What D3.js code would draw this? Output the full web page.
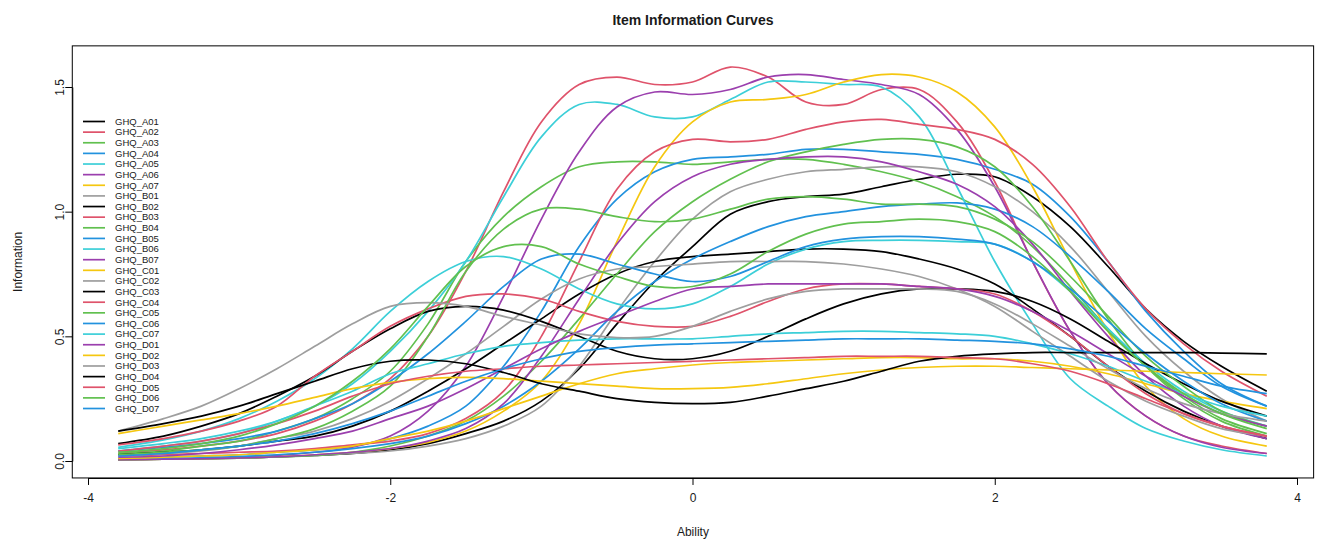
<!DOCTYPE html>
<html><head><meta charset="utf-8">
<script src="https://cdn.jsdelivr.net/npm/d3@7"></script>
<style>
body{margin:0;background:#fff}
svg{display:block}
text{font-family:"Liberation Sans",Arial,sans-serif;fill:#1a1a1a}
</style></head>
<body><svg id="chart" width="1317" height="539"></svg>
<script>
// Ability grid (x values)
const theta = [-3.8,-3.5,-3.25,-3,-2.75,-2.5,-2.25,-2,-1.75,-1.5,-1.25,-1,-0.75,-0.5,-0.25,0,0.25,0.5,0.75,1,1.25,1.5,1.75,2,2.25,2.5,2.75,3,3.25,3.5,3.8];
const xTicks = [-4,-2,0,2,4];
const xTickLabels = ["-4","-2","0","2","4"];
const yTicks = [0,0.5,1.0,1.5];
const yTickLabels = ["0.0","0.5","1.0","1.5"];
const itemNames = ["GHQ_A01","GHQ_A02","GHQ_A03","GHQ_A04","GHQ_A05","GHQ_A06","GHQ_A07",
  "GHQ_B01","GHQ_B02","GHQ_B03","GHQ_B04","GHQ_B05","GHQ_B06","GHQ_B07",
  "GHQ_C01","GHQ_C02","GHQ_C03","GHQ_C04","GHQ_C05","GHQ_C06","GHQ_C07",
  "GHQ_D01","GHQ_D02","GHQ_D03","GHQ_D04","GHQ_D05","GHQ_D06","GHQ_D07"];
const palette = ["#000000","#DF536B","#61C04F","#2292DE","#3CCFD8","#9B3FAE","#F5C710","#9E9E9E"];

// Information values per item
const GHQ_A01 = [0.005,0.007,0.009,0.012,0.016,0.022,0.03,0.045,0.07,0.11,0.16,0.24,0.37,0.55,0.72,0.86,0.99,1.04,1.06,1.07,1.1,1.13,1.15,1.14,1.06,0.94,0.78,0.61,0.48,0.38,0.28];
const GHQ_A02 = [0.03,0.045,0.06,0.08,0.11,0.16,0.23,0.33,0.5,0.76,1.08,1.36,1.51,1.54,1.51,1.52,1.58,1.54,1.44,1.43,1.49,1.49,1.36,1.12,0.8,0.52,0.31,0.18,0.1,0.06,0.03];
const GHQ_A03 = [0.03,0.04,0.06,0.08,0.12,0.17,0.25,0.36,0.55,0.8,0.98,1.1,1.18,1.2,1.2,1.19,1.2,1.21,1.21,1.19,1.16,1.12,1.06,0.98,0.86,0.7,0.53,0.38,0.26,0.17,0.11];
const GHQ_A04 = [0.01,0.015,0.02,0.025,0.035,0.045,0.06,0.09,0.14,0.22,0.38,0.6,0.86,1.05,1.16,1.21,1.22,1.23,1.25,1.25,1.24,1.23,1.21,1.17,1.11,0.98,0.8,0.6,0.44,0.31,0.22];
const GHQ_A05 = [0.04,0.06,0.08,0.11,0.16,0.22,0.31,0.44,0.6,0.8,1.06,1.3,1.43,1.43,1.38,1.38,1.45,1.52,1.52,1.51,1.5,1.38,1.1,0.8,0.55,0.33,0.22,0.13,0.08,0.045,0.02];
const GHQ_A06 = [0.005,0.008,0.01,0.015,0.022,0.035,0.055,0.1,0.2,0.38,0.66,0.97,1.24,1.42,1.48,1.47,1.49,1.54,1.55,1.53,1.51,1.47,1.33,1.1,0.8,0.52,0.31,0.18,0.1,0.055,0.03];
const GHQ_A07 = [0.005,0.007,0.009,0.012,0.017,0.025,0.035,0.05,0.075,0.12,0.2,0.32,0.55,0.88,1.18,1.36,1.44,1.45,1.47,1.52,1.55,1.54,1.48,1.34,1.1,0.8,0.52,0.3,0.17,0.1,0.06];
const GHQ_B01 = [0.005,0.007,0.009,0.012,0.016,0.022,0.03,0.04,0.06,0.09,0.14,0.22,0.38,0.6,0.8,0.97,1.08,1.13,1.16,1.17,1.18,1.18,1.16,1.1,1.0,0.86,0.68,0.5,0.36,0.25,0.16];
const GHQ_B02 = [0.025,0.035,0.045,0.06,0.08,0.1,0.14,0.2,0.28,0.37,0.47,0.57,0.67,0.75,0.8,0.82,0.83,0.84,0.85,0.85,0.84,0.81,0.77,0.71,0.61,0.5,0.38,0.28,0.2,0.14,0.09];
const GHQ_B03 = [0.02,0.025,0.03,0.035,0.04,0.05,0.065,0.08,0.11,0.17,0.28,0.5,0.8,1.09,1.24,1.29,1.28,1.29,1.33,1.36,1.37,1.35,1.33,1.29,1.19,1.02,0.8,0.61,0.47,0.36,0.26];
const GHQ_B04 = [0.005,0.007,0.009,0.012,0.016,0.022,0.035,0.06,0.1,0.16,0.26,0.4,0.57,0.75,0.92,1.04,1.13,1.2,1.24,1.27,1.29,1.29,1.26,1.18,1.02,0.8,0.57,0.38,0.25,0.16,0.1];
const GHQ_B05 = [0.008,0.01,0.013,0.018,0.025,0.035,0.05,0.07,0.1,0.15,0.22,0.32,0.45,0.6,0.72,0.81,0.88,0.94,0.98,1.0,1.02,1.03,1.035,1.01,0.94,0.82,0.68,0.53,0.41,0.3,0.22];
const GHQ_B06 = [0.055,0.085,0.12,0.17,0.24,0.33,0.45,0.6,0.72,0.8,0.82,0.77,0.69,0.63,0.61,0.63,0.7,0.79,0.85,0.88,0.885,0.885,0.88,0.87,0.8,0.68,0.53,0.39,0.28,0.2,0.14];
const GHQ_B07 = [0.005,0.007,0.009,0.012,0.017,0.025,0.035,0.05,0.08,0.13,0.23,0.42,0.65,0.87,1.04,1.14,1.19,1.21,1.22,1.22,1.2,1.16,1.11,1.02,0.87,0.68,0.5,0.34,0.22,0.14,0.09];
const GHQ_C01 = [0.01,0.015,0.02,0.025,0.035,0.045,0.06,0.09,0.12,0.16,0.21,0.26,0.31,0.35,0.37,0.385,0.395,0.4,0.405,0.41,0.415,0.415,0.41,0.41,0.4,0.38,0.35,0.31,0.27,0.24,0.21];
const GHQ_C02 = [0.02,0.03,0.04,0.06,0.09,0.12,0.17,0.24,0.33,0.43,0.54,0.65,0.73,0.77,0.78,0.79,0.8,0.8,0.8,0.79,0.77,0.74,0.69,0.62,0.52,0.42,0.32,0.24,0.18,0.13,0.1];
const GHQ_C03 = [0.07,0.1,0.14,0.19,0.26,0.34,0.44,0.53,0.6,0.62,0.605,0.56,0.5,0.44,0.41,0.41,0.44,0.5,0.57,0.63,0.67,0.69,0.69,0.68,0.64,0.57,0.48,0.39,0.31,0.24,0.18];
const GHQ_C04 = [0.065,0.09,0.12,0.16,0.22,0.34,0.44,0.54,0.61,0.66,0.67,0.65,0.6,0.56,0.54,0.54,0.58,0.64,0.69,0.71,0.71,0.7,0.69,0.67,0.6,0.5,0.38,0.27,0.19,0.14,0.1];
const GHQ_C05 = [0.025,0.035,0.045,0.06,0.09,0.13,0.2,0.3,0.5,0.76,0.93,1.01,1.01,0.98,0.96,0.97,1.01,1.05,1.06,1.05,1.03,1.03,1.02,0.97,0.88,0.74,0.58,0.42,0.3,0.2,0.14];
const GHQ_C06 = [0.04,0.055,0.07,0.09,0.12,0.17,0.23,0.32,0.43,0.56,0.7,0.81,0.83,0.79,0.75,0.72,0.74,0.8,0.86,0.89,0.9,0.9,0.89,0.87,0.8,0.69,0.56,0.43,0.32,0.23,0.16];
const GHQ_C07 = [0.05,0.07,0.09,0.12,0.16,0.22,0.28,0.35,0.39,0.43,0.46,0.475,0.485,0.49,0.49,0.49,0.5,0.51,0.515,0.52,0.52,0.515,0.51,0.5,0.47,0.43,0.38,0.32,0.27,0.22,0.18];
const GHQ_D01 = [0.015,0.02,0.03,0.045,0.065,0.09,0.12,0.17,0.22,0.29,0.37,0.45,0.52,0.58,0.64,0.69,0.7,0.71,0.71,0.71,0.71,0.7,0.69,0.66,0.6,0.52,0.43,0.34,0.26,0.19,0.14];
const GHQ_D02 = [0.11,0.14,0.165,0.19,0.22,0.255,0.29,0.315,0.33,0.335,0.33,0.32,0.31,0.3,0.29,0.29,0.295,0.31,0.33,0.35,0.365,0.375,0.38,0.38,0.375,0.37,0.365,0.36,0.355,0.35,0.345];
const GHQ_D03 = [0.12,0.17,0.22,0.29,0.37,0.46,0.55,0.62,0.635,0.62,0.58,0.545,0.51,0.495,0.5,0.54,0.6,0.65,0.68,0.69,0.69,0.69,0.68,0.63,0.55,0.46,0.37,0.29,0.23,0.19,0.16];
const GHQ_D04 = [0.12,0.15,0.18,0.22,0.27,0.32,0.37,0.4,0.405,0.39,0.355,0.31,0.28,0.25,0.235,0.23,0.235,0.26,0.29,0.32,0.36,0.4,0.42,0.43,0.435,0.435,0.435,0.435,0.435,0.433,0.43];
const GHQ_D05 = [0.04,0.06,0.08,0.11,0.15,0.2,0.26,0.31,0.34,0.36,0.37,0.38,0.385,0.39,0.395,0.4,0.405,0.41,0.415,0.42,0.42,0.42,0.415,0.41,0.39,0.36,0.31,0.25,0.19,0.14,0.1];
const GHQ_D06 = [0.035,0.05,0.07,0.1,0.15,0.22,0.32,0.45,0.62,0.78,0.86,0.86,0.79,0.74,0.7,0.7,0.75,0.84,0.91,0.95,0.96,0.97,0.96,0.92,0.82,0.68,0.52,0.38,0.27,0.19,0.13];
const GHQ_D07 = [0.02,0.03,0.045,0.06,0.08,0.11,0.15,0.2,0.26,0.32,0.37,0.41,0.44,0.455,0.465,0.47,0.475,0.48,0.485,0.49,0.49,0.49,0.485,0.48,0.47,0.45,0.42,0.38,0.34,0.3,0.27];

const seriesValues = [GHQ_A01,GHQ_A02,GHQ_A03,GHQ_A04,GHQ_A05,GHQ_A06,GHQ_A07,
  GHQ_B01,GHQ_B02,GHQ_B03,GHQ_B04,GHQ_B05,GHQ_B06,GHQ_B07,
  GHQ_C01,GHQ_C02,GHQ_C03,GHQ_C04,GHQ_C05,GHQ_C06,GHQ_C07,
  GHQ_D01,GHQ_D02,GHQ_D03,GHQ_D04,GHQ_D05,GHQ_D06,GHQ_D07];

const svg = d3.select("#chart");
const x = d3.scaleLinear().domain([-4,4]).range([88,1297]);
const y = d3.scaleLinear().domain([0,1.5]).range([461,87]);
const xLim = [-4.104,4.11], yLim = [-0.068,1.665];
const L = x(xLim[0]), R = x(xLim[1]), T = y(yLim[1]), B = y(yLim[0]);

// curves
const line = d3.line().x(d=>x(d[0])).y(d=>y(d[1])).curve(d3.curveCatmullRom.alpha(0.5));
const g = svg.append("g");
seriesValues.forEach((vals,i)=>{
  g.append("path")
    .attr("d", line(theta.map((t,j)=>[t, vals[j]])))
    .attr("fill","none")
    .attr("stroke", palette[i % palette.length])
    .attr("stroke-width",1.7)
    .attr("stroke-linejoin","round");
});

// box
svg.append("rect").attr("x",L).attr("y",T).attr("width",R-L).attr("height",B-T)
  .attr("fill","none").attr("stroke","#000").attr("stroke-width",1);

// x axis
const xAxis = svg.append("g").attr("transform",`translate(0,${B})`)
  .call(d3.axisBottom(x).tickValues(xTicks).tickFormat((d,i)=>xTickLabels[i]).tickSize(7).tickSizeOuter(0).tickPadding(9));
xAxis.selectAll("text").style("font-size","12px").attr("fill","#1a1a1a");
xAxis.selectAll("line,path").attr("stroke","#000");

// y axis
const yAxis = svg.append("g").attr("transform",`translate(${L},0)`)
  .call(d3.axisLeft(y).tickValues(yTicks).tickFormat("").tickSize(7).tickSizeOuter(0));
yAxis.selectAll("line,path").attr("stroke","#000");
yAxis.selectAll(".tick").append("text")
  .attr("x",0).attr("y",0)
  .attr("transform",`translate(${-8},0) rotate(-90)`)
  .attr("text-anchor","middle")
  .style("font-size","12px").attr("fill","#1a1a1a")
  .text((d,i)=>yTickLabels[i]);

// titles
svg.append("text").attr("x",(L+R)/2).attr("y",25).attr("text-anchor","middle")
  .style("font-size","14px").style("font-weight","bold").text("Item Information Curves");
svg.append("text").attr("x",(L+R)/2).attr("y",536).attr("text-anchor","middle")
  .style("font-size","12px").text("Ability");
svg.append("text").attr("transform",`translate(22,${(T+B)/2}) rotate(-90)`).attr("text-anchor","middle")
  .style("font-size","12px").text("Information");

// legend
const lg = svg.append("g");
const rowH = 10.63, top0 = 121.5;
itemNames.forEach((n,i)=>{
  const yy = top0 + i*rowH;
  lg.append("line").attr("x1",83).attr("x2",105).attr("y1",yy).attr("y2",yy)
    .attr("stroke",palette[i % palette.length]).attr("stroke-width",1.7);
  lg.append("text").attr("x",115).attr("y",yy).attr("dy","0.35em")
    .style("font-size","9.5px").text(n);
});
</script></body></html>
